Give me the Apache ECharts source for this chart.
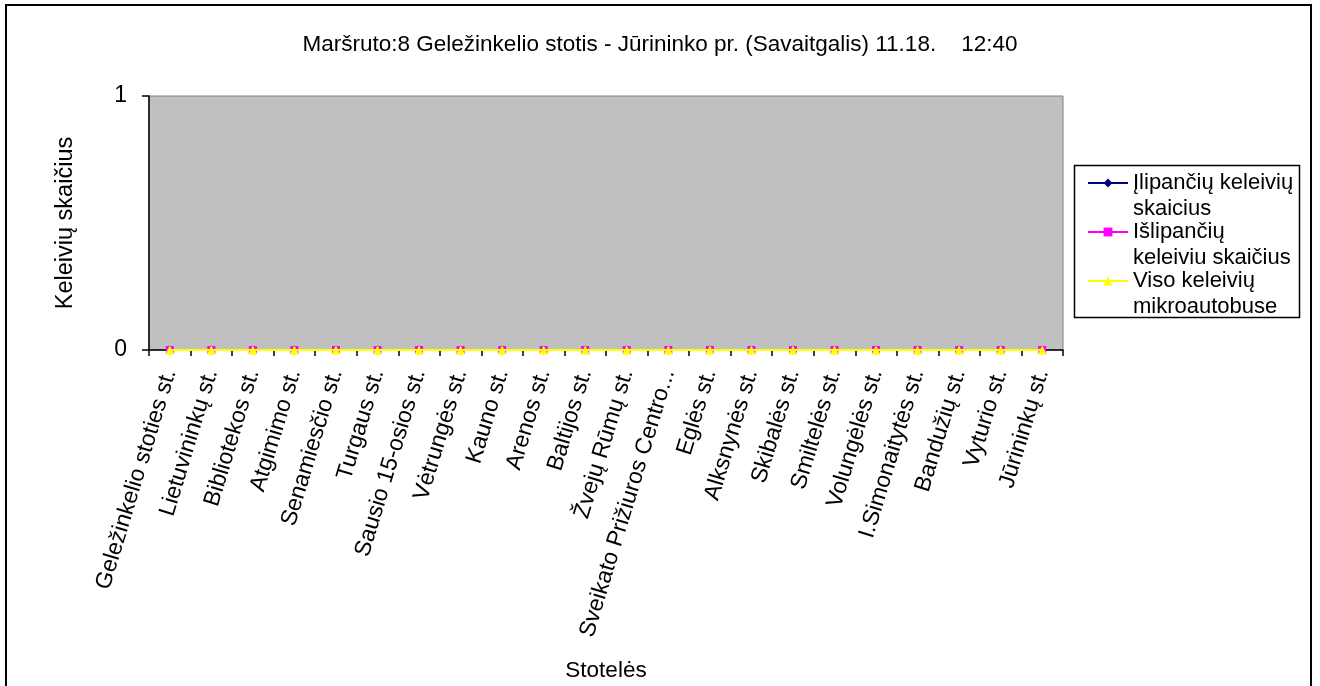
<!DOCTYPE html>
<html>
<head>
<meta charset="utf-8">
<script src="https://cdn.jsdelivr.net/npm/echarts@6/dist/echarts.min.js"></script>
<style>
html,body{margin:0;padding:0;background:#fff;}
#chart{width:1320px;height:686px;}
</style>
</head>
<body>
<div id="chart"></div>
<script>
const titleText = 'Maršruto:8 Geležinkelio stotis - Jūrininko pr. (Savaitgalis) 11.18.    12:40';
const categories = [
  'Geležinkelio stoties st.', 'Lietuvininkų st.', 'Bibliotekos st.', 'Atgimimo st.',
  'Senamiesčio st.', 'Turgaus st.', 'Sausio 15-osios st.', 'Vėtrungės st.',
  'Kauno st.', 'Arenos st.', 'Baltijos st.', 'Žvejų Rūmų st.',
  'Sveikato Prižiuros Centro...', 'Eglės st.', 'Alksnynės st.', 'Skibalės st.',
  'Smiltelės st.', 'Volungėlės st.', 'I.Simonaitytės st.', 'Bandužių st.',
  'Vyturio st.', 'Jūrininkų st.'
];
const seriesNames = ['Įlipančių keleivių skaicius', 'Išlipančių keleiviu skaičius', 'Viso keleivių mikroautobuse'];
const legendLabels = ['Įlipančių keleivių\nskaicius', 'Išlipančių\nkeleiviu skaičius', 'Viso keleivių\nmikroautobuse'];
const boarding  = [0,0,0,0,0,0,0,0,0,0,0,0,0,0,0,0,0,0,0,0,0,0];
const alighting = [0,0,0,0,0,0,0,0,0,0,0,0,0,0,0,0,0,0,0,0,0,0];
const onBoard   = [0,0,0,0,0,0,0,0,0,0,0,0,0,0,0,0,0,0,0,0,0,0];
const yTicks = [0, 1];
const yAxisName = 'Keleivių skaičius';
const xAxisName = 'Stotelės';

const FONT = "'Liberation Sans', Arial, sans-serif";
const chart = echarts.init(document.getElementById('chart'), null, {renderer: 'canvas'});

const colors = ['#000080', '#FF00FF', '#FFFF00'];
const symbols = ['diamond', 'rect', 'triangle'];
const symSizes = [9, 8, 9];
const datasets = [boarding, alighting, onBoard];

chart.setOption({
  animation: false,
  backgroundColor: '#ffffff',
  textStyle: {fontFamily: FONT, color: '#000'},
  title: {
    text: titleText,
    left: 'center',
    top: 28,
    textStyle: {fontFamily: FONT, fontSize: 22.5, fontWeight: 'normal', color: '#000'}
  },
  grid: {
    left: 149, top: 96, right: 257, bottom: 336,
    show: true, backgroundColor: '#C0C0C0', borderColor: '#808080', borderWidth: 1
  },
  legend: {
    orient: 'vertical',
    left: 1087,
    top: 144,
    padding: 0,
    itemGap: -29,
    itemWidth: 40,
    itemHeight: 11,
    data: seriesNames,
    formatter: function (name) { return '\n' + legendLabels[seriesNames.indexOf(name)]; },
    textStyle: {
      fontFamily: FONT, fontSize: 22, color: '#000', lineHeight: 26,
      backgroundColor: 'rgba(0,0,0,0)'
    }
  },
  xAxis: {
    type: 'category',
    data: categories,
    boundaryGap: true,
    name: xAxisName,
    nameLocation: 'middle',
    nameGap: 309,
    nameTextStyle: {fontFamily: FONT, fontSize: 22.5, color: '#000'},
    axisLine: {onZero: false, lineStyle: {color: '#000', width: 1.5}},
    axisTick: {show: true, length: 6, alignWithLabel: false, lineStyle: {color: '#000', width: 1.5}},
    axisLabel: {
      interval: 0, rotate: 73, margin: 20,
      fontFamily: FONT, fontSize: 23, color: '#000'
    },
    splitLine: {show: false}
  },
  yAxis: {
    type: 'value',
    min: 0, max: 1, interval: 1,
    name: yAxisName,
    nameLocation: 'middle',
    nameGap: 71,
    nameRotate: 90,
    nameTextStyle: {fontFamily: FONT, fontSize: 23.5, color: '#000'},
    axisLine: {show: true, lineStyle: {color: '#000', width: 1.5}},
    axisTick: {show: true, length: 7, lineStyle: {color: '#000', width: 1.5}},
    axisLabel: {margin: 22, fontFamily: FONT, fontSize: 23, color: '#000',
      formatter: function (v) { return yTicks.indexOf(v) >= 0 ? String(v) : ''; }},
    splitLine: {show: false}
  },
  graphic: [
    {type: 'rect', silent: true, z: -10,
      shape: {x: 6, y: 5, width: 1305, height: 720},
      style: {fill: 'none', stroke: '#000', lineWidth: 2}},
    {type: 'rect', silent: true, z: -5,
      shape: {x: 1074.5, y: 165.5, width: 225, height: 152},
      style: {fill: '#fff', stroke: '#000', lineWidth: 1.5}}
  ],
  series: datasets.map(function (d, i) {
    return {
      name: seriesNames[i],
      type: 'line',
      data: d,
      symbol: symbols[i],
      symbolSize: symSizes[i],
      showAllSymbol: true,
      lineStyle: {color: colors[i], width: 2},
      itemStyle: {color: colors[i], borderWidth: 0},
      z: 3 + i
    };
  })
});
</script>
</body>
</html>
